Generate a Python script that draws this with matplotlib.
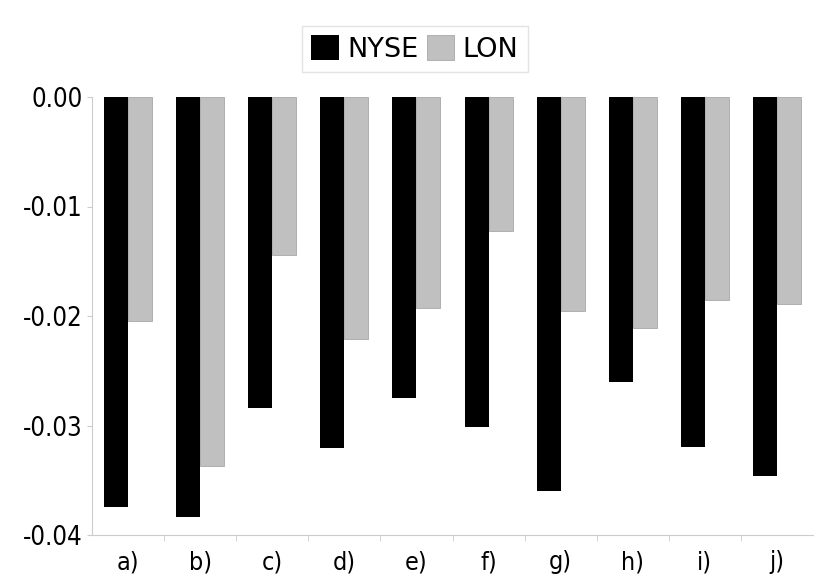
import numpy as np
import matplotlib
matplotlib.use('Agg')
from matplotlib import pyplot as plt
from matplotlib.ticker import FixedLocator

categories = ['a)', 'b)', 'c)', 'd)', 'e)', 'f)', 'g)', 'h)', 'i)', 'j)']
nyse = [-0.0374, -0.0384, -0.0284, -0.0321, -0.0275, -0.0301, -0.0360, -0.0260, -0.0320, -0.0346]
lon = [-0.0205, -0.0337, -0.0144, -0.0221, -0.0193, -0.0122, -0.0195, -0.0211, -0.0185, -0.0189]
yticks = [0.0, -0.01, -0.02, -0.03, -0.04]
ylabels = ['0.00', '-0.01', '-0.02', '-0.03', '-0.04']

plt.rcParams['font.family'] = ['DejaVu Sans']
plt.rcParams['font.stretch'] = 'condensed'

fig = plt.figure(figsize=(8.3, 5.86), dpi=100)
ax = fig.add_axes([92/830, (586-535)/586, (813-92)/830, (535-97)/586])

x = np.arange(len(categories))
w = 1/3
b1 = ax.bar(x - w/2, nyse, w, color='black', label='NYSE')
b2 = ax.bar(x + w/2, lon, w, color='#c0c0c0', edgecolor='#a8a8a8', linewidth=0.6, label='LON')

ax.set_xlim(-0.5, len(categories) - 0.5)
ax.set_ylim(-0.04, 0.0)
ax.set_yticks(yticks)
ax.set_yticklabels(ylabels)
ax.set_xticks(x)
ax.set_xticklabels(categories)
ax.xaxis.set_minor_locator(FixedLocator(np.arange(0.5, len(categories) - 1, 1)))
ax.tick_params(axis='x', which='major', length=0, labelsize=18, pad=11)
ax.tick_params(axis='x', which='minor', length=4, color='#cccccc', direction='out')
ax.tick_params(axis='y', length=3.6, color='#cccccc', labelsize=18.5, pad=3)

for s in ['top', 'right']:
    ax.spines[s].set_visible(False)
for s in ['left', 'bottom']:
    ax.spines[s].set_color('#cccccc')

leg = fig.legend(handles=[b1, b2], loc='center', bbox_to_anchor=(415/830, 1 - 49/586),
                 ncol=2, prop={'family': 'DejaVu Sans', 'stretch': 'normal', 'size': 19.5},
                 frameon=True, fancybox=False,
                 handlelength=1.0, handleheight=1.0, handletextpad=0.33, columnspacing=0.3,
                 borderpad=0.35)
leg.get_frame().set_edgecolor('#dddddd')
leg.get_frame().set_linewidth(1)

fig.savefig('out.png', dpi=100)
